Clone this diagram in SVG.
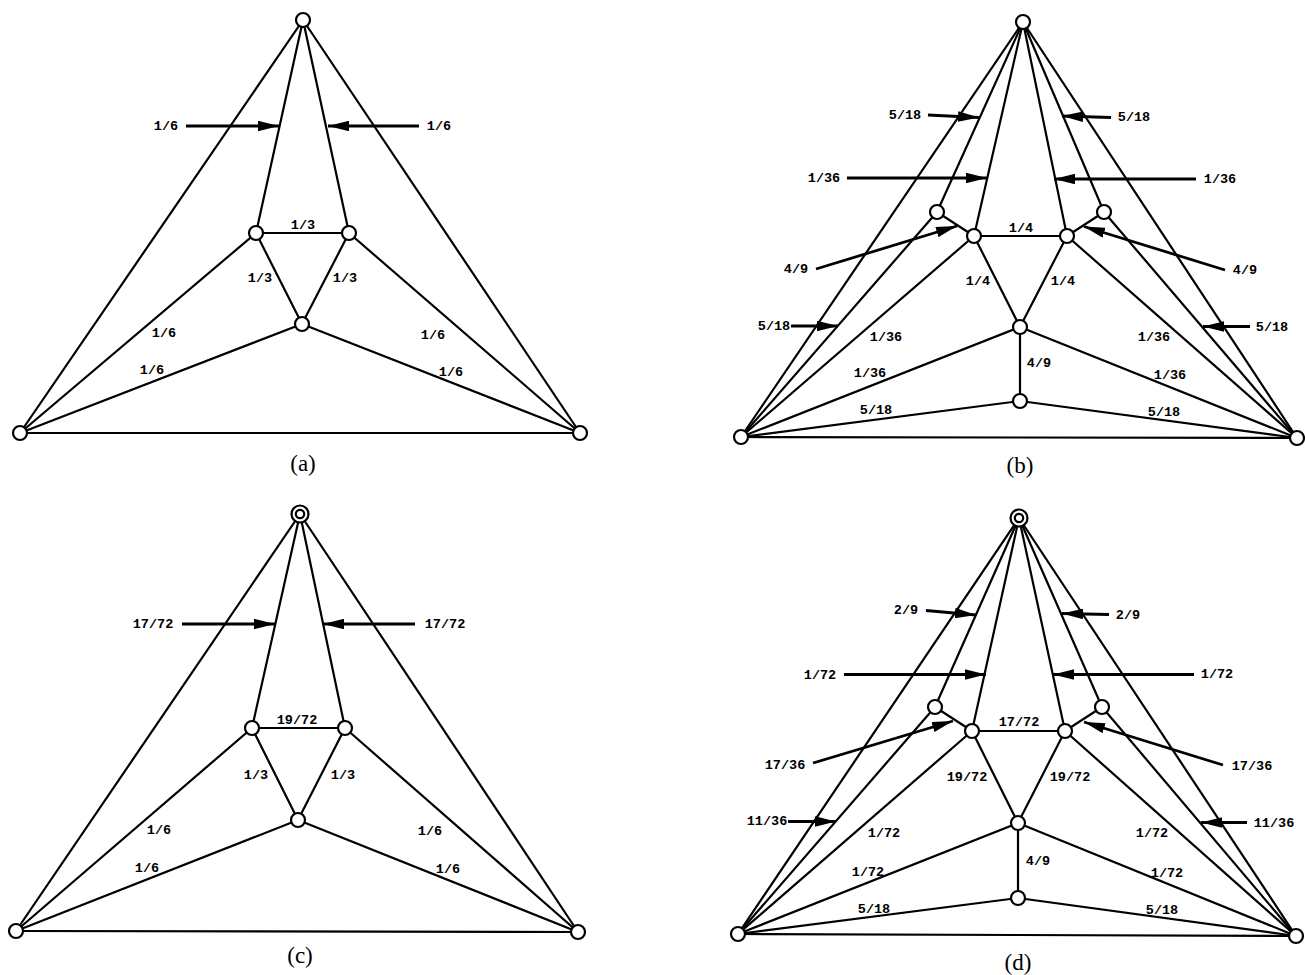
<svg xmlns="http://www.w3.org/2000/svg" width="1305" height="975" viewBox="0 0 1305 975">
<style>
.e{stroke:#000;stroke-width:2.2;fill:none;stroke-linecap:round}
.n{fill:#fff;stroke:#000;stroke-width:2.2}
.a{stroke:#000;stroke-width:2.8;fill:none;marker-end:url(#ah)}
.l{font-family:"Liberation Mono",monospace;font-weight:bold;font-size:13.5px;text-anchor:middle;fill:#000}
.c{font-family:"Liberation Serif",serif;font-size:23px;text-anchor:middle;fill:#000}
</style>
<defs>
<marker id="ah" markerUnits="userSpaceOnUse" viewBox="0 0 20 10" refX="20" refY="5" markerWidth="21" markerHeight="10.5" orient="auto">
<path d="M0,0 L20,5 L0,10 Z" fill="#000"/>
</marker>
</defs>
<rect width="1305" height="975" fill="#fff"/>

<!-- Panel (a) -->
<g id="panel-a">
<g id="a-connectors">
<line class="e" x1="303" y1="20" x2="20" y2="433"/>
<line class="e" x1="303" y1="20" x2="580" y2="433"/>
<line class="e" x1="20" y1="433" x2="580" y2="433"/>
<line class="e" x1="303" y1="20" x2="256" y2="233"/>
<line class="e" x1="303" y1="20" x2="349" y2="233"/>
<line class="e" x1="256" y1="233" x2="349" y2="233"/>
<line class="e" x1="256" y1="233" x2="20" y2="433"/>
<line class="e" x1="349" y1="233" x2="580" y2="433"/>
<line class="e" x1="256" y1="233" x2="302" y2="324"/>
<line class="e" x1="349" y1="233" x2="302" y2="324"/>
<line class="e" x1="302" y1="324" x2="20" y2="433"/>
<line class="e" x1="302" y1="324" x2="580" y2="433"/>
<line class="a" x1="186" y1="126" x2="279" y2="126"/>
<line class="a" x1="419" y1="126" x2="328" y2="126"/>
</g>
<g id="a-top"><circle class="n" cx="303" cy="20" r="7"/></g>
<g id="a-bl"><circle class="n" cx="20" cy="433" r="7"/></g>
<g id="a-br"><circle class="n" cx="580" cy="433" r="7"/></g>
<g id="a-lm"><circle class="n" cx="256" cy="233" r="7"/></g>
<g id="a-rm"><circle class="n" cx="349" cy="233" r="7"/></g>
<g id="a-bc"><circle class="n" cx="302" cy="324" r="7"/></g>
<g id="a-labels">
<text class="l" x="166" y="130">1/6</text>
<text class="l" x="439" y="130">1/6</text>
<text class="l" x="303" y="229">1/3</text>
<text class="l" x="260" y="282">1/3</text>
<text class="l" x="345" y="282">1/3</text>
<text class="l" x="164" y="337">1/6</text>
<text class="l" x="152" y="374">1/6</text>
<text class="l" x="433" y="339">1/6</text>
<text class="l" x="451" y="376">1/6</text>
<text class="c" x="303" y="471">(a)</text>
</g>
</g>

<!-- Panel (b) -->
<g id="panel-b">
<g id="b-connectors">
<line class="e" x1="1023" y1="22" x2="741" y2="437"/>
<line class="e" x1="1023" y1="22" x2="1297" y2="438"/>
<line class="e" x1="741" y1="437" x2="1297" y2="438"/>
<line class="e" x1="1023" y1="22" x2="937" y2="212"/>
<line class="e" x1="1023" y1="22" x2="1104" y2="212"/>
<line class="e" x1="1023" y1="22" x2="974" y2="236"/>
<line class="e" x1="1023" y1="22" x2="1067" y2="236"/>
<line class="e" x1="937" y1="212" x2="741" y2="437"/>
<line class="e" x1="1104" y1="212" x2="1297" y2="438"/>
<line class="e" x1="937" y1="212" x2="974" y2="236"/>
<line class="e" x1="1104" y1="212" x2="1067" y2="236"/>
<line class="e" x1="974" y1="236" x2="1067" y2="236"/>
<line class="e" x1="974" y1="236" x2="741" y2="437"/>
<line class="e" x1="1067" y1="236" x2="1297" y2="438"/>
<line class="e" x1="974" y1="236" x2="1020" y2="327"/>
<line class="e" x1="1067" y1="236" x2="1020" y2="327"/>
<line class="e" x1="1020" y1="327" x2="741" y2="437"/>
<line class="e" x1="1020" y1="327" x2="1297" y2="438"/>
<line class="e" x1="1020" y1="327" x2="1020" y2="401"/>
<line class="e" x1="1020" y1="401" x2="741" y2="437"/>
<line class="e" x1="1020" y1="401" x2="1297" y2="438"/>
<line class="a" x1="928" y1="115" x2="979" y2="117.5"/>
<line class="a" x1="1111" y1="117.5" x2="1062" y2="116"/>
<line class="a" x1="847" y1="178" x2="987" y2="178"/>
<line class="a" x1="1196" y1="179" x2="1054" y2="179"/>
<line class="a" x1="816" y1="269" x2="957" y2="226"/>
<line class="a" x1="1225" y1="270" x2="1084" y2="226.5"/>
<line class="a" x1="791" y1="326" x2="838" y2="326"/>
<line class="a" x1="1250" y1="326.5" x2="1203" y2="326.5"/>
</g>
<g id="b-top"><circle class="n" cx="1023" cy="22" r="7"/></g>
<g id="b-bl"><circle class="n" cx="741" cy="437" r="7"/></g>
<g id="b-br"><circle class="n" cx="1297" cy="438" r="7"/></g>
<g id="b-lo"><circle class="n" cx="937" cy="212" r="7"/></g>
<g id="b-ro"><circle class="n" cx="1104" cy="212" r="7"/></g>
<g id="b-lm"><circle class="n" cx="974" cy="236" r="7"/></g>
<g id="b-rm"><circle class="n" cx="1067" cy="236" r="7"/></g>
<g id="b-bc"><circle class="n" cx="1020" cy="327" r="7"/></g>
<g id="b-bb"><circle class="n" cx="1020" cy="401" r="7"/></g>
<g id="b-labels">
<text class="l" x="905" y="119">5/18</text>
<text class="l" x="1134" y="121">5/18</text>
<text class="l" x="824" y="182">1/36</text>
<text class="l" x="1220" y="183">1/36</text>
<text class="l" x="1021" y="232">1/4</text>
<text class="l" x="796" y="273">4/9</text>
<text class="l" x="1245" y="274">4/9</text>
<text class="l" x="978" y="285">1/4</text>
<text class="l" x="1063" y="285">1/4</text>
<text class="l" x="774" y="330">5/18</text>
<text class="l" x="1272" y="331">5/18</text>
<text class="l" x="886" y="341">1/36</text>
<text class="l" x="1154" y="341">1/36</text>
<text class="l" x="1039" y="367">4/9</text>
<text class="l" x="870" y="377">1/36</text>
<text class="l" x="1170" y="379">1/36</text>
<text class="l" x="876" y="414">5/18</text>
<text class="l" x="1164" y="416">5/18</text>
<text class="c" x="1020" y="473">(b)</text>
</g>
</g>

<!-- Panel (c) -->
<g id="panel-c">
<g id="c-connectors">
<line class="e" x1="300" y1="514" x2="16" y2="931"/>
<line class="e" x1="300" y1="514" x2="578" y2="932"/>
<line class="e" x1="16" y1="931" x2="578" y2="932"/>
<line class="e" x1="300" y1="514" x2="252" y2="728"/>
<line class="e" x1="300" y1="514" x2="345" y2="728"/>
<line class="e" x1="252" y1="728" x2="345" y2="728"/>
<line class="e" x1="252" y1="728" x2="16" y2="931"/>
<line class="e" x1="345" y1="728" x2="578" y2="932"/>
<line class="e" x1="252" y1="728" x2="298" y2="820"/>
<line class="e" x1="345" y1="728" x2="298" y2="820"/>
<line class="e" x1="298" y1="820" x2="16" y2="931"/>
<line class="e" x1="298" y1="820" x2="578" y2="932"/>
<line class="a" x1="182" y1="624" x2="275" y2="624"/>
<line class="a" x1="415" y1="624" x2="323" y2="624"/>
</g>
<g id="c-top"><circle class="n" cx="300" cy="514" r="8.5"/><circle class="n" cx="300" cy="514" r="4.2"/></g>
<g id="c-bl"><circle class="n" cx="16" cy="931" r="7"/></g>
<g id="c-br"><circle class="n" cx="578" cy="932" r="7"/></g>
<g id="c-lm"><circle class="n" cx="252" cy="728" r="7"/></g>
<g id="c-rm"><circle class="n" cx="345" cy="728" r="7"/></g>
<g id="c-bc"><circle class="n" cx="298" cy="820" r="7"/></g>
<g id="c-labels">
<text class="l" x="153" y="628">17/72</text>
<text class="l" x="445" y="628">17/72</text>
<text class="l" x="297" y="724">19/72</text>
<text class="l" x="256" y="779">1/3</text>
<text class="l" x="343" y="779">1/3</text>
<text class="l" x="159" y="834">1/6</text>
<text class="l" x="147" y="872">1/6</text>
<text class="l" x="430" y="835">1/6</text>
<text class="l" x="448" y="873">1/6</text>
<text class="c" x="300" y="963">(c)</text>
</g>
</g>

<!-- Panel (d) -->
<g id="panel-d">
<g id="d-connectors">
<line class="e" x1="1019" y1="518" x2="738" y2="934"/>
<line class="e" x1="1019" y1="518" x2="1296" y2="936"/>
<line class="e" x1="738" y1="934" x2="1296" y2="936"/>
<line class="e" x1="1019" y1="518" x2="935" y2="707"/>
<line class="e" x1="1019" y1="518" x2="1102" y2="707"/>
<line class="e" x1="1019" y1="518" x2="972" y2="731"/>
<line class="e" x1="1019" y1="518" x2="1065" y2="731"/>
<line class="e" x1="935" y1="707" x2="738" y2="934"/>
<line class="e" x1="1102" y1="707" x2="1296" y2="936"/>
<line class="e" x1="935" y1="707" x2="972" y2="731"/>
<line class="e" x1="1102" y1="707" x2="1065" y2="731"/>
<line class="e" x1="972" y1="731" x2="1065" y2="731"/>
<line class="e" x1="972" y1="731" x2="738" y2="934"/>
<line class="e" x1="1065" y1="731" x2="1296" y2="936"/>
<line class="e" x1="972" y1="731" x2="1018" y2="823"/>
<line class="e" x1="1065" y1="731" x2="1018" y2="823"/>
<line class="e" x1="1018" y1="823" x2="738" y2="934"/>
<line class="e" x1="1018" y1="823" x2="1296" y2="936"/>
<line class="e" x1="1018" y1="823" x2="1018" y2="898"/>
<line class="e" x1="1018" y1="898" x2="738" y2="934"/>
<line class="e" x1="1018" y1="898" x2="1296" y2="936"/>
<line class="a" x1="926" y1="610.5" x2="976" y2="615"/>
<line class="a" x1="1109" y1="614.5" x2="1062" y2="613.5"/>
<line class="a" x1="844" y1="674.5" x2="986" y2="674.5"/>
<line class="a" x1="1194" y1="674.5" x2="1053" y2="674.5"/>
<line class="a" x1="813" y1="763" x2="953" y2="721"/>
<line class="a" x1="1223" y1="765" x2="1084" y2="722"/>
<line class="a" x1="788" y1="821.5" x2="836" y2="821.5"/>
<line class="a" x1="1247" y1="822.5" x2="1201" y2="822.5"/>
</g>
<g id="d-top"><circle class="n" cx="1019" cy="518" r="8.5"/><circle class="n" cx="1019" cy="518" r="4.2"/></g>
<g id="d-bl"><circle class="n" cx="738" cy="934" r="7"/></g>
<g id="d-br"><circle class="n" cx="1296" cy="936" r="7"/></g>
<g id="d-lo"><circle class="n" cx="935" cy="707" r="7"/></g>
<g id="d-ro"><circle class="n" cx="1102" cy="707" r="7"/></g>
<g id="d-lm"><circle class="n" cx="972" cy="731" r="7"/></g>
<g id="d-rm"><circle class="n" cx="1065" cy="731" r="7"/></g>
<g id="d-bc"><circle class="n" cx="1018" cy="823" r="7"/></g>
<g id="d-bb"><circle class="n" cx="1018" cy="898" r="7"/></g>
<g id="d-labels">
<text class="l" x="906" y="614">2/9</text>
<text class="l" x="1128" y="619">2/9</text>
<text class="l" x="820" y="679">1/72</text>
<text class="l" x="1217" y="678">1/72</text>
<text class="l" x="1019" y="726">17/72</text>
<text class="l" x="785" y="769">17/36</text>
<text class="l" x="1252" y="770">17/36</text>
<text class="l" x="967" y="781">19/72</text>
<text class="l" x="1070" y="781">19/72</text>
<text class="l" x="767" y="825">11/36</text>
<text class="l" x="1274" y="827">11/36</text>
<text class="l" x="884" y="837">1/72</text>
<text class="l" x="1152" y="837">1/72</text>
<text class="l" x="1038" y="865">4/9</text>
<text class="l" x="868" y="876">1/72</text>
<text class="l" x="1167" y="877">1/72</text>
<text class="l" x="874" y="913">5/18</text>
<text class="l" x="1162" y="914">5/18</text>
<text class="c" x="1018" y="970">(d)</text>
</g>
</g>
</svg>
